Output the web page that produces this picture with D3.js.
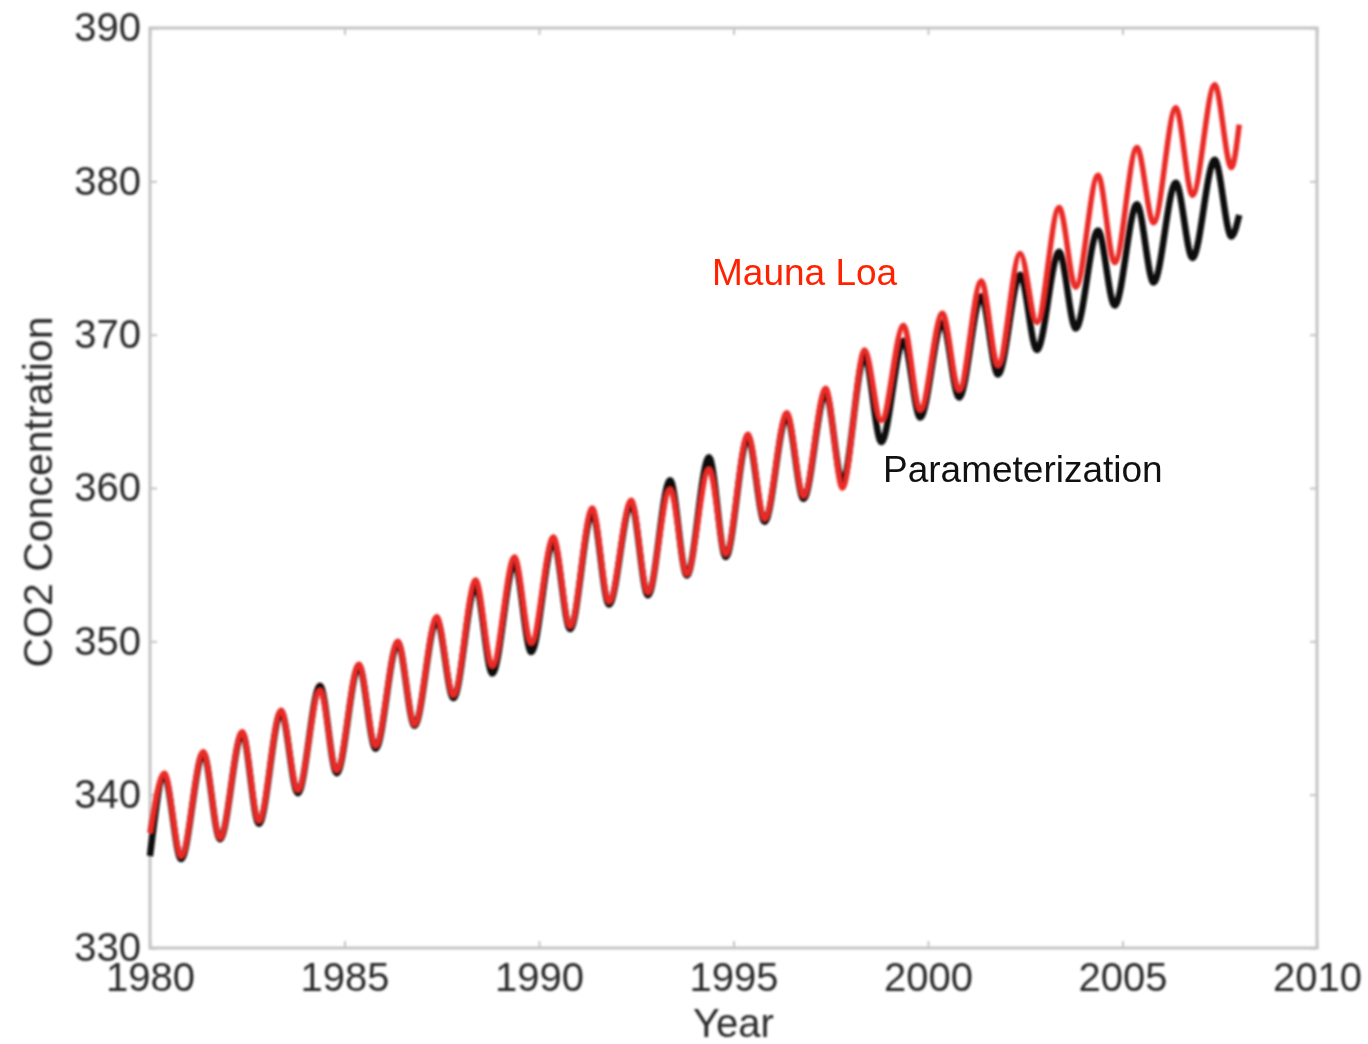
<!DOCTYPE html>
<html>
<head>
<meta charset="utf-8">
<script src="https://cdn.jsdelivr.net/npm/d3@7"></script>
<style>
  html, body { margin: 0; padding: 0; background: #fff; }
  svg { display: block; }
</style>
</head>
<body>
<svg id="chart" width="1368" height="1044"></svg>
<script>
// Yearly seasonal extremes of atmospheric CO2 (ppm): spring peak and autumn trough
const years = [1980,1981,1982,1983,1984,1985,1986,1987,1988,1989,1990,1991,1992,1993,
               1994,1995,1996,1997,1998,1999,2000,2001,2002,2003,2004,2005,2006,2007];

const maunaLoaPeak   = [341.4,342.8,344.1,345.5,346.8,348.5,350.0,351.6,354.0,355.5,356.8,358.7,359.2,359.9,
                        361.2,363.5,364.9,366.5,369.0,370.6,371.4,373.5,375.3,378.3,380.4,382.2,384.8,386.3];
const maunaLoaTrough = [336.0,337.2,338.3,340.3,341.6,343.2,344.6,346.5,348.4,349.9,351.0,352.6,353.2,354.4,
                        355.7,358.0,359.5,360.0,364.4,365.1,366.4,368.0,370.8,373.1,374.7,377.3,379.1,380.9];
const paramPeak      = [341.2,342.7,344.0,345.4,347.1,348.4,349.9,351.4,353.6,355.1,356.5,358.4,359.0,360.5,
                        362.0,363.3,364.7,366.2,368.6,369.6,370.8,372.5,373.9,375.4,376.8,378.5,379.9,381.4];
const paramTrough    = [335.8,337.1,338.1,340.1,341.4,343.0,344.5,346.3,347.9,349.3,350.8,352.4,353.0,354.3,
                        355.5,357.8,359.3,360.4,363.0,364.6,365.9,367.4,369.0,370.4,371.9,373.4,375.0,376.4];

// Values at the start (Jan 1980) and end (Jan 2008) of each record
const maunaLoaEnds = [337.5, 383.7];
const paramEnds    = [336.0, 377.8];

// Fraction of the year at which the seasonal peak and trough occur
const peakPhase = 0.37, troughPhase = 0.80;

const xTicks = [1980,1985,1990,1995,2000,2005,2010];
const yTicks = [330,340,350,360,370,380,390];

// ---- layout ----
const svg = d3.select("#chart");
const plotLeft = 150, plotRight = 1317, plotTop = 28, plotBottom = 948;

const x = d3.scaleLinear().domain([1980, 2010]).range([plotLeft, plotRight]);
const y = d3.scaleLinear().domain([330, 390]).range([plotBottom, plotTop]);

const defs = svg.append("defs");
defs.append("filter").attr("id", "soft")
  .append("feGaussianBlur").attr("stdDeviation", 0.8);

function buildSeries(peaks, troughs, ends) {
  const pts = [{t: 1980, v: ends[0]}];
  years.forEach((yr, i) => {
    pts.push({t: yr + peakPhase, v: peaks[i]});
    pts.push({t: yr + troughPhase, v: troughs[i]});
  });
  pts.push({t: 2008, v: ends[1]});
  return pts;
}

const line = d3.line()
  .x(d => x(d.t))
  .y(d => y(d.v))
  .curve(d3.curveMonotoneX);

// ---- axes box ----
const axisColor = "#c4c4c4";
const fontStack = "'Liberation Sans', Arial, Helvetica, sans-serif";
const frame = svg.append("g").attr("filter", "url(#soft)");
frame.append("rect")
  .attr("x", plotLeft).attr("y", plotTop)
  .attr("width", plotRight - plotLeft).attr("height", plotBottom - plotTop)
  .attr("fill", "none").attr("stroke", axisColor).attr("stroke-width", 3);

const tickLen = 7;
const axBottom = d3.axisBottom(x).tickValues(xTicks).tickFormat(d3.format("d"))
  .tickSizeInner(-tickLen).tickSizeOuter(0).tickPadding(14);
const axTop = d3.axisTop(x).tickValues(xTicks).tickFormat("").tickSizeInner(-tickLen).tickSizeOuter(0);
const axLeft = d3.axisLeft(y).tickValues(yTicks).tickFormat(d3.format("d"))
  .tickSizeInner(-tickLen).tickSizeOuter(0).tickPadding(9);
const axRight = d3.axisRight(y).tickValues(yTicks).tickFormat("").tickSizeInner(-tickLen).tickSizeOuter(0);

function styleAxis(g) {
  g.select(".domain").remove();
  g.selectAll(".tick line").attr("stroke", axisColor).attr("stroke-width", 2);
  g.selectAll(".tick text")
    .attr("fill", "#2a2a2a")
    .style("font-family", fontStack)
    .style("font-size", "40px");
}

frame.append("g").attr("transform", `translate(0,${plotBottom})`).call(axBottom).call(styleAxis)
  .selectAll(".tick text").attr("dy", "0.71em").attr("y", 15);
frame.append("g").attr("transform", `translate(0,${plotTop})`).call(axTop).call(styleAxis);
frame.append("g").attr("transform", `translate(${plotLeft},0)`).call(axLeft).call(styleAxis);
frame.append("g").attr("transform", `translate(${plotRight},0)`).call(axRight).call(styleAxis);

// axis titles
frame.append("text")
  .attr("x", (plotLeft + plotRight) / 2).attr("y", 1037)
  .attr("text-anchor", "middle")
  .attr("fill", "#2a2a2a")
  .style("font-family", fontStack)
  .style("font-size", "40px")
  .text("Year");

frame.append("text")
  .attr("transform", `translate(52,${(plotTop + plotBottom) / 2 + 4}) rotate(-90)`)
  .attr("text-anchor", "middle")
  .attr("fill", "#2a2a2a")
  .style("font-family", fontStack)
  .style("font-size", "41px")
  .text("CO2 Concentration");

// ---- data lines ----
const plot = svg.append("g").attr("filter", "url(#soft)");
plot.append("path")
  .datum(buildSeries(paramPeak, paramTrough, paramEnds))
  .attr("d", line)
  .attr("fill", "none")
  .attr("stroke", "#111")
  .attr("stroke-width", 6.5)
  .attr("stroke-linejoin", "round");

plot.append("path")
  .datum(buildSeries(maunaLoaPeak, maunaLoaTrough, maunaLoaEnds))
  .attr("d", line)
  .attr("fill", "none")
  .attr("stroke", "#ea2a26")
  .attr("stroke-width", 5.5)
  .attr("stroke-linejoin", "round");

// ---- labels ----
svg.append("text")
  .attr("x", 712).attr("y", 285)
  .attr("fill", "#ff2200")
  .style("font-family", "Arial, 'Liberation Sans', sans-serif")
  .style("font-size", "37px")
  .text("Mauna Loa");

svg.append("text")
  .attr("x", 883).attr("y", 482)
  .attr("fill", "#111")
  .style("font-family", "Arial, 'Liberation Sans', sans-serif")
  .style("font-size", "37px")
  .text("Parameterization");
</script>
</body>
</html>
